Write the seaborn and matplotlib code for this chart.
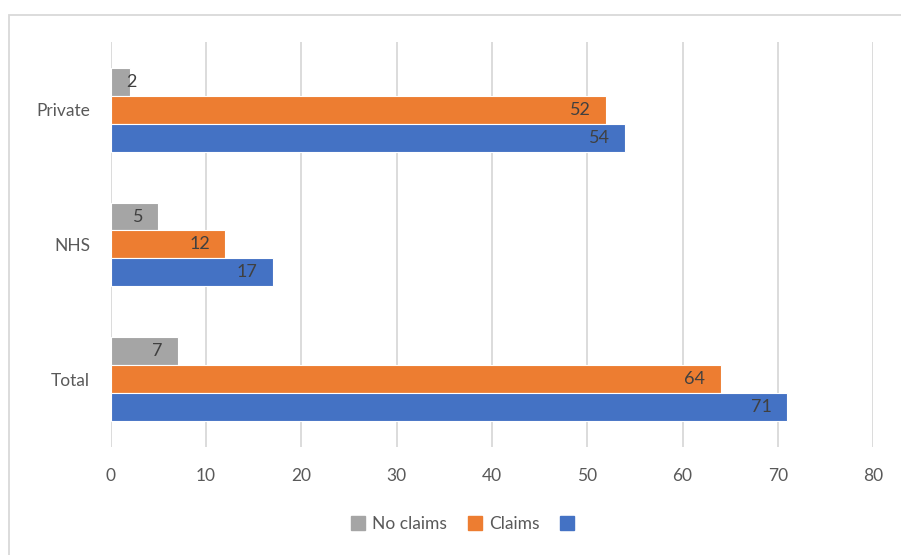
import pandas as pd
import seaborn as sns
import matplotlib.pyplot as plt
from matplotlib.patches import Rectangle
from matplotlib.lines import Line2D

# Data
categories = ['Private', 'NHS', 'Total']
no_claims = [2, 5, 7]
claims = [52, 12, 64]
unnamed = [54, 17, 71]
series_names = ['No claims', 'Claims', ' ']
colors = ['#A5A5A5', '#ED7D31', '#4472C4']

df = pd.DataFrame({
    'category': categories * 3,
    'series': [series_names[0]] * 3 + [series_names[1]] * 3 + [series_names[2]] * 3,
    'value': no_claims + claims + unnamed,
})

sns.set_style('white')
plt.rcParams['font.family'] = ['Lato', 'DejaVu Sans']

fig = plt.figure(figsize=(9.01, 5.55), dpi=100)
ax = fig.add_axes([0.123, 0.195, 0.846, 0.729])

sns.barplot(data=df, y='category', x='value', hue='series', order=categories,
            hue_order=series_names, palette=colors, saturation=1, orient='h',
            width=0.622, edgecolor='white', linewidth=0.8, legend=False, ax=ax)

ax.set_xlim(0, 80)
ax.set_ylim(2.5, -0.5)
ax.set_xticks(range(0, 81, 10))
ax.grid(axis='x', color='#D9D9D9', linewidth=1.3)
ax.set_axisbelow(True)
for s in ax.spines.values():
    s.set_visible(False)
ax.set_xlabel('')
ax.set_ylabel('')
ax.tick_params(axis='both', length=0, labelsize=12.5, labelcolor='#595959')
ax.tick_params(axis='x', pad=15)
ax.tick_params(axis='y', pad=15)

# value labels, inside end like Excel
for cont in ax.containers:
    for bar in cont:
        w = bar.get_width()
        yc = bar.get_y() + bar.get_height() / 2
        if w < 3:
            ax.annotate(f'{w:.0f}', (0, yc), xytext=(11, 0), textcoords='offset points',
                        ha='left', va='center', fontsize=13, color='#404040')
        else:
            ax.annotate(f'{w:.0f}', (w, yc), xytext=(-11, 0), textcoords='offset points',
                        ha='right', va='center', fontsize=13, color='#404040')

handles = [Line2D([], [], marker='s', linestyle='', markersize=9.5, color=c) for c in colors]
fig.legend(handles, series_names, loc='center', bbox_to_anchor=(0.52, 0.056), ncol=3,
           frameon=False, fontsize=12.5, labelcolor='#595959', handlelength=0.8,
           handletextpad=0.4, columnspacing=1.2)

# chart border (top and left visible only)
fig.patches.append(Rectangle((9 / 901, -0.1), 1.2, 1 - 15 / 555 + 0.1,
                             transform=fig.transFigure, fill=False,
                             edgecolor='#D9D9D9', linewidth=1.3))

fig.savefig('out.png', dpi=100)
